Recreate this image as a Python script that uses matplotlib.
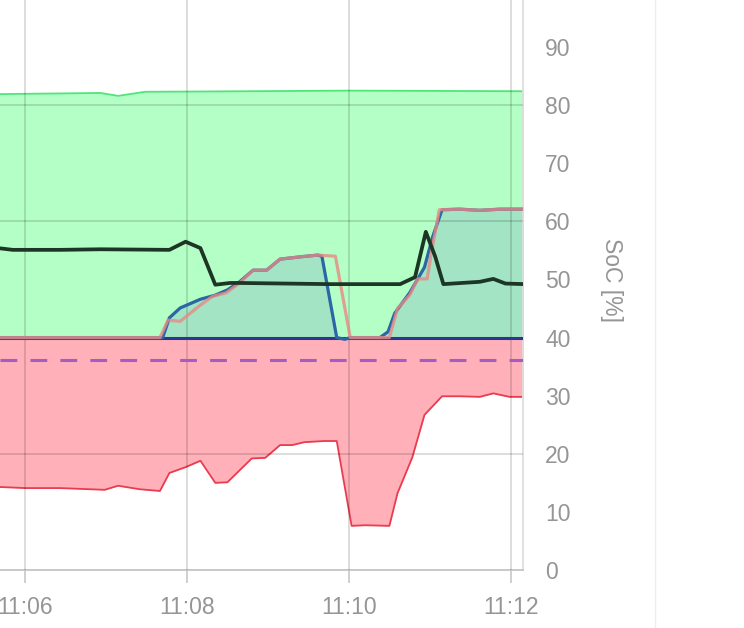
import pandas as pd
import matplotlib
matplotlib.use("Agg")
import matplotlib.pyplot as plt
import matplotlib.dates as mdates
from matplotlib.lines import Line2D

plt.rcParams['font.family'] = ['Liberation Sans', 'DejaVu Sans']

# upper bound of the allowed band (green)
green_t = ["11:05:40", "11:06:56", "11:07:09", "11:07:29", "11:08:47", "11:10:00", "11:12:10"]
green_v = [81.9, 82.1, 81.6, 82.3, 82.4, 82.5, 82.4]

# lower bound (red)
red_t = ["11:05:40", "11:06:00", "11:06:26", "11:06:59", "11:07:09", "11:07:25", "11:07:40",
         "11:07:47", "11:07:59", "11:08:10", "11:08:21", "11:08:30", "11:08:48", "11:08:58",
         "11:09:09", "11:09:18", "11:09:27", "11:09:42", "11:09:51", "11:10:02", "11:10:12",
         "11:10:30", "11:10:36", "11:10:47", "11:10:56", "11:11:09", "11:11:22", "11:11:37",
         "11:11:47", "11:11:59", "11:12:10"]
red_v = [14.3, 14.1, 14.1, 13.8, 14.5, 13.9, 13.6,
         16.7, 17.7, 18.8, 15.0, 15.1, 19.2, 19.3,
         21.5, 21.5, 22.0, 22.2, 22.2, 7.6, 7.7,
         7.6, 13.2, 19.4, 26.7, 29.9, 29.9, 29.8,
         30.4, 29.8, 29.8]

# black SoC line
soc_t = ["11:05:40", "11:05:51", "11:06:26", "11:06:56", "11:07:47", "11:07:59", "11:08:10",
         "11:08:21", "11:08:32", "11:08:39", "11:09:46", "11:10:38", "11:10:49", "11:10:57",
         "11:11:04", "11:11:10", "11:11:37", "11:11:47", "11:11:56", "11:12:10"]
soc_v = [55.4, 55.1, 55.1, 55.2, 55.1, 56.5, 55.4,
         49.1, 49.4, 49.4, 49.2, 49.2, 50.4, 58.2,
         53.9, 49.2, 49.6, 50.1, 49.3, 49.2]

# blue target
blue_t = ["11:05:40", "11:07:42", "11:07:47", "11:07:55", "11:08:10", "11:08:21", "11:08:30",
          "11:08:39", "11:08:49", "11:08:59", "11:09:09", "11:09:24", "11:09:37", "11:09:40",
          "11:09:51", "11:09:57", "11:10:01", "11:10:23", "11:10:29", "11:10:34", "11:10:45",
          "11:10:56", "11:11:02", "11:11:09", "11:11:22", "11:11:37", "11:11:52", "11:12:10"]
blue_v = [40, 40, 43.4, 45.1, 46.6, 47.3, 48.2,
          49.6, 51.6, 51.6, 53.5, 53.9, 54.2, 54.0,
          40.0, 39.7, 40, 40, 41, 44.2, 47.7,
          52.1, 57.3, 62.0, 62.1, 61.9, 62.1, 62.1]

# pink target
pink_t = ["11:05:40", "11:07:40", "11:07:46", "11:07:55", "11:08:10", "11:08:19", "11:08:29",
          "11:08:39", "11:08:49", "11:08:59", "11:09:09", "11:09:24", "11:09:37", "11:09:50",
          "11:10:01", "11:10:30", "11:10:36", "11:10:45", "11:10:51", "11:10:58", "11:11:01",
          "11:11:07", "11:11:22", "11:11:37", "11:11:52", "11:12:10"]
pink_v = [40, 40, 43.0, 42.8, 45.6, 47.1, 47.7,
          49.4, 51.6, 51.6, 53.5, 53.9, 54.2, 54.0,
          40, 40, 45.0, 47.3, 50.1, 50.1, 54.5,
          62.0, 62.1, 61.9, 62.1, 62.1]

min_soc = 40
reserve = 36.1

ytick_vals = list(range(0, 100, 10))
grid_y = [20, 40, 60, 80]
grid_x = ["11:06:00", "11:08:00", "11:10:00", "11:12:00"]


def tt(lst):
    return pd.to_datetime(lst, format="%H:%M:%S")


fig = plt.figure(figsize=(7.44, 6.28), dpi=100)
ax = fig.add_axes([0.0, 58 / 628, 523 / 744, 570 / 628])

gt, rt, st, bt, pt = tt(green_t), tt(red_t), tt(soc_t), tt(blue_t), tt(pink_t)

ax.fill_between(gt, min_soc, green_v, color="#b3ffc6", lw=0, zorder=1)
ax.plot(gt, green_v, color="#4ee679", lw=1.3, zorder=2)
ax.fill_between(rt, min_soc, red_v, color="#ffb0b9", lw=0, zorder=1)
ax.plot(rt, red_v, color="#ea3c50", lw=1.3, zorder=2)
ax.fill_between(bt, min_soc, blue_v, color="#a2e4c3", lw=0, zorder=1.5)

# grid drawn over the fills
for g in grid_y:
    ax.axhline(g, color=(0, 0, 0, 0.15), lw=1.3, zorder=3)
for g in tt(grid_x):
    ax.axvline(g, color=(0, 0, 0, 0.15), lw=1.3, zorder=3)

ax.axhline(reserve, color="#a35ec4", lw=2.2, ls=(0, (5.5, 4.3)), zorder=4)
ax.axhline(min_soc, color="#2c3590", lw=2.2, zorder=4)
ax.plot(bt, blue_v, color="#2b66a6", lw=2.3, zorder=5)
ax.plot(pt, pink_v, color="#e88a86", lw=2.3, alpha=0.8, zorder=6)
ax.plot(st, soc_v, color="#1c3524", lw=2.7, zorder=7)

ax.set_xlim(pd.Timestamp("1900-01-01 11:05:41.5"), pd.Timestamp("1900-01-01 11:12:09"))
ax.set_ylim(0, 98.1)

ax.xaxis.set_major_locator(mdates.MinuteLocator(byminute=range(0, 60, 2)))
ax.xaxis.set_major_formatter(mdates.DateFormatter("%H:%M"))
ax.tick_params(axis="x", length=9.4, width=1.3, color="#cccccc", pad=9,
               labelsize=16.5, labelcolor="#959595")

ax.yaxis.tick_right()
ax.set_yticks(ytick_vals)
ax.tick_params(axis="y", length=0, pad=16, labelsize=16.5, labelcolor="#959595")

for s in ["top", "left"]:
    ax.spines[s].set_visible(False)
ax.spines["bottom"].set_color("#c4c4c4")
ax.spines["bottom"].set_linewidth(1.3)
ax.spines["right"].set_color("#dddddd")
ax.spines["right"].set_linewidth(1.3)

fig.text(612 / 744, 1 - 280 / 628, "SoC [%]", rotation=270, ha="center", va="center",
         fontsize=16.5, color="#959595")
fig.add_artist(Line2D([655 / 744, 655 / 744], [0, 1], color="#eeeeee", lw=1,
                      transform=fig.transFigure))

fig.savefig("out.png", dpi=100)
